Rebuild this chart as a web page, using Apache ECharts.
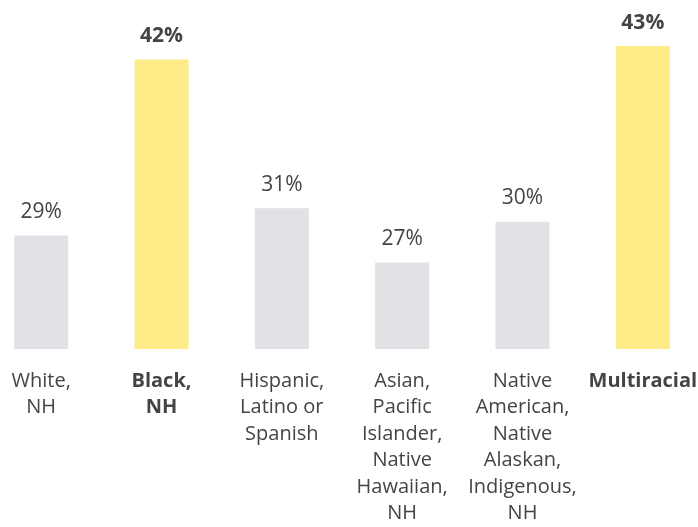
<!DOCTYPE html>
<html>
<head>
<meta charset="utf-8">
<script src="https://cdn.jsdelivr.net/npm/echarts@6/dist/echarts.min.js"></script>
<style>
  html, body { margin: 0; padding: 0; background: #fff; overflow: hidden; width: 698px; height: 527px; }
  /* the plot bands reach past the page edges, so the box is a bit wider than the page */
  #chart { width: 722px; height: 527px; margin-left: -19px; }
</style>
</head>
<body>
<div id="chart"></div>
<script>
// categories and shares (%)
const categories = [
  'White,\nNH',
  'Black,\nNH',
  'Hispanic,\nLatino or\nSpanish',
  'Asian,\nPacific\nIslander,\nNative\nHawaiian,\nNH',
  'Native\nAmerican,\nNative\nAlaskan,\nIndigenous,\nNH',
  'Multiracial'
];
const values = [29, 42, 31, 27, 30, 43];
const highlighted = [false, true, false, false, false, true];

const GREY = '#e1e1e6';
const YELLOW = '#fdec88';
const TEXT = '#444444';
const FONT = '"Open Sans"';

let chart = echarts.init(document.getElementById('chart'), null, { renderer: 'canvas' });

const option = {
  animation: false,
  grid: { left: 0, right: 0, top: 19, bottom: 176 },
  xAxis: {
    type: 'category',
    data: categories,
    axisLine: { show: false },
    axisTick: { show: false },
    axisLabel: {
      interval: 0,
      margin: 19,
      color: TEXT,
      fontFamily: FONT,
      fontSize: 20,
      lineHeight: 26.5,
      formatter: (val, idx) => highlighted[idx] ? '{b|' + val + '}' : val,
      rich: {
        b: { fontWeight: 'bold', fontSize: 20, lineHeight: 26.5, color: TEXT, fontFamily: FONT }
      }
    }
  },
  yAxis: {
    type: 'value',
    min: 20.6,
    max: 45,
    show: false,
    splitLine: { show: false }
  },
  series: [{
    type: 'bar',
    barWidth: 54,
    data: values.map((v, i) => ({
      value: v,
      itemStyle: { color: highlighted[i] ? YELLOW : GREY },
      label: { fontWeight: highlighted[i] ? 'bold' : 'normal' }
    })),
    label: {
      show: true,
      position: 'top',
      distance: 13,
      color: TEXT,
      fontFamily: FONT,
      fontSize: 21,
      formatter: '{c}%'
    }
  }]
};

chart.setOption(option);
</script>
</body>
</html>
